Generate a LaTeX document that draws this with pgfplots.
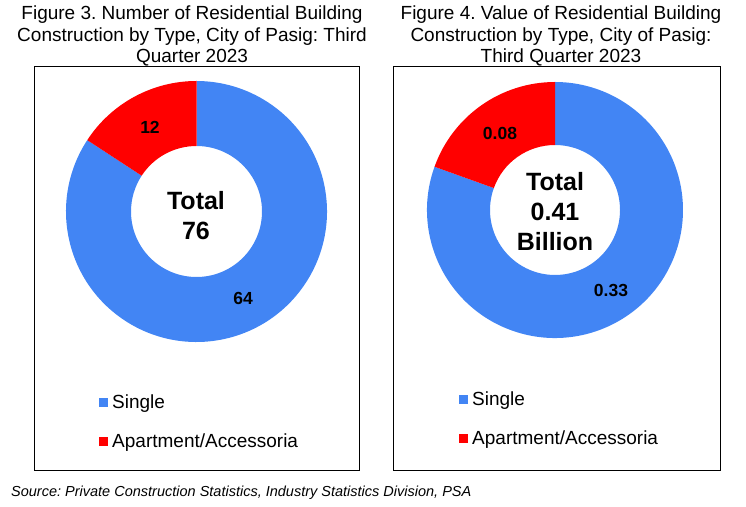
\documentclass[border=0pt]{standalone}
\usepackage{pgfplots}
\usepackage{pgfplotstable}
\usepackage{fontspec}
\setmainfont{Liberation Sans}
\pgfplotsset{compat=1.18}
\frenchspacing

\definecolor{single}{RGB}{66,133,244}
\definecolor{apart}{RGB}{255,0,0}

% number of buildings
\pgfplotstableread{
type value
Single 64
Apartment 12
}\countdata
% value in billion pesos
\pgfplotstableread{
type value
Single 0.33
Apartment 0.08
}\valuedata

% angle taken by the apartment slice, into \angB
\newcommand{\slicetangle}[1]{%
  \pgfplotstablegetelem{0}{value}\of#1\let\vA\pgfplotsretval
  \pgfplotstablegetelem{1}{value}\of#1\let\vB\pgfplotsretval
  \pgfmathsetmacro\angB{90+360*\vB/(\vA+\vB)}%
}
% donut at axis cs #1,#2 with radii #3 and #4 (pt)
\newcommand{\donut}[4]{%
  \fill[single, shift={(axis cs:#1,#2)}] (\angB:#3pt) arc[start angle=\angB, end angle=450, radius=#3pt]
    -- (450:#4pt) arc[start angle=450, end angle=\angB, radius=#4pt] -- cycle;
  \fill[apart, shift={(axis cs:#1,#2)}] (90:#3pt) arc[start angle=90, end angle=\angB, radius=#3pt]
    -- (\angB:#4pt) arc[start angle=\angB, end angle=90, radius=#4pt] -- cycle;
}

\pgfplotsset{
  donutbox/.style={
    scale only axis, anchor=south west,
    height=403pt, ymin=0, ymax=403,
    xtick=\empty, ytick=\empty,
    axis line style={black, line width=1pt},
    legend style={draw=none, fill=none, anchor=north west,
      font=\fontsize{19}{22}\selectfont, row sep=19pt,
      cells={anchor=west}, inner sep=0pt},
    legend image code/.code={\fill[##1, draw=none] (0pt,-4.5pt) rectangle (9pt,4.5pt);
      \path[draw=none, fill=none] (11pt,0pt);},
  },
}
\tikzset{
  lbl/.style={font=\bfseries\fontsize{17.5}{20}\selectfont},
  tot/.style={font=\bfseries\fontsize{25}{30}\selectfont, align=center},
}

\begin{document}
\begin{tikzpicture}[x=1pt, y=1pt]
\path (0,0) rectangle (746,506);

\node[align=center, anchor=north, inner sep=0pt, font=\fontsize{19}{21.5}\selectfont]
  at (192,500) {Figure 3. Number of Residential Building\\Construction by Type, City of Pasig: Third\\Quarter 2023};
\node[align=center, anchor=north, inner sep=0pt, font=\fontsize{19}{21.5}\selectfont]
  at (561,500) {Figure 4. Value of Residential Building\\Construction by Type, City of Pasig:\\Third Quarter 2023};

\slicetangle{\countdata}
\begin{axis}[donutbox, at={(34pt,36pt)}, width=325pt, xmin=0, xmax=325,
  legend style={at={(axis cs:65,77)}}]
  \donut{162.5}{258.5}{130.5}{65.5}
  \addlegendimage{fill=single}\addlegendentry{Single}
  \addlegendimage{fill=apart}\addlegendentry{Apartment/Accessoria}
  \node[lbl] at (axis cs:116,343) {12};
  \node[lbl] at (axis cs:209,172) {64};
  \node[tot] at (axis cs:162,254) {Total\\76};
\end{axis}

\slicetangle{\valuedata}
\begin{axis}[donutbox, at={(393pt,36pt)}, width=327pt, xmin=0, xmax=327,
  legend style={at={(axis cs:66,80)}}]
  \donut{162}{260}{128}{65}
  \addlegendimage{fill=single}\addlegendentry{Single}
  \addlegendimage{fill=apart}\addlegendentry{Apartment/Accessoria}
  \node[lbl] at (axis cs:107,337) {0.08};
  \node[lbl] at (axis cs:218,180) {0.33};
  \node[tot] at (axis cs:162,258) {Total\\0.41\\Billion};
\end{axis}

\node[anchor=base west, inner sep=0pt, font=\itshape\fontsize{14.5}{18}\selectfont]
  at (11,10) {Source: Private Construction Statistics, Industry Statistics Division, PSA};
\end{tikzpicture}
\end{document}
